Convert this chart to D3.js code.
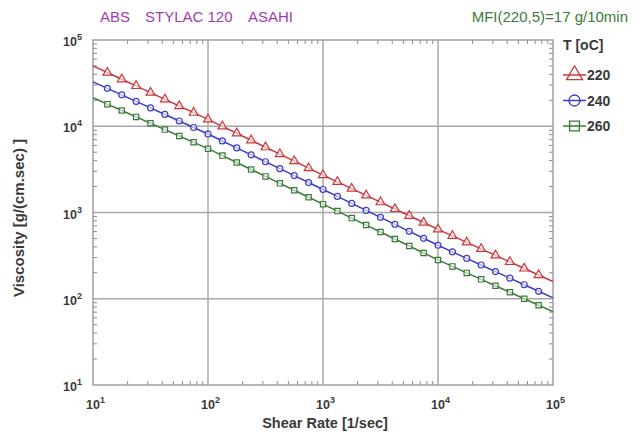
<!DOCTYPE html>
<meta charset="utf-8">
<script src="https://d3js.org/d3.v7.min.js"></script>
<style>
body { margin: 0; background: #fff; }
svg { font-family: "Liberation Sans", Arial, sans-serif; }
</style>
<div id="chart"></div>
<script>

// shear rate [1/sec]
var shearRate = [10, 13.34, 17.78, 23.71, 31.62, 42.17, 56.23, 74.99,
  100, 133.4, 177.8, 237.1, 316.2, 421.7, 562.3, 749.9,
  1000, 1334, 1778, 2371, 3162, 4217, 5623, 7499,
  10000, 13340, 17780, 23710, 31620, 42170, 56230, 74990, 100000];

// viscosity [g/(cm.sec)] per melt temperature
var visc220 = [50119, 41940, 35080, 29340, 24550, 20530, 17180, 14370,
  12020, 9983, 8288, 6882, 5715, 4746, 3940, 3272,
  2716, 2267, 1891, 1578, 1317, 1099, 916.8, 764.9,
  638.3, 536.2, 450.6, 378.5, 318.1, 267.2, 224.5, 188.6, 158.5];
var visc240 = [32730, 27500, 23110, 19410, 16310, 13700, 11515, 9674,
  8128, 6753, 5614, 4666, 3878, 3223, 2678, 2226,
  1849, 1535, 1274, 1058, 878.3, 728.9, 605.0, 502.2,
  416.9, 349.9, 293.4, 246.2, 206.5, 173.3, 145.4, 122.0, 102.3];
var visc260 = [21380, 18040, 15220, 12840, 10840, 9147, 7718, 6512,
  5495, 4568, 3796, 3154, 2621, 2178, 1810, 1504,
  1250, 1038, 861.5, 715.2, 593.7, 492.8, 409.0, 339.6,
  281.8, 237.1, 199.5, 167.9, 141.3, 118.9, 100, 84.14, 70.79];

var temps = ["220", "240", "260"];
var colors = ["#c8383c", "#3c3cc8", "#3a7a3a"];
var symbols = [d3.symbolTriangle, d3.symbolCircle, d3.symbolSquare];
var decades = [1, 2, 3, 4, 5];

var series = [visc220, visc240, visc260].map(function(v, i) {
  return { name: temps[i], color: colors[i], symbol: symbols[i],
    values: v.map(function(d, j) { return { x: shearRate[j], y: d }; }) };
});

var W = 641, H = 446;
var margin = {top: 40, right: 88, bottom: 61, left: 93};
var width = W - margin.left - margin.right,
    height = H - margin.top - margin.bottom;

var svg = d3.select("#chart").append("svg")
  .attr("width", W).attr("height", H);

var x = d3.scaleLog().domain([10, 1e5]).range([margin.left, margin.left + width]);
var y = d3.scaleLog().domain([10, 1e5]).range([margin.top + height, margin.top]);

// grid at decades
var g = svg.append("g");
g.selectAll(".gx").data(decades.slice(1, -1)).enter().append("line")
  .attr("x1", function(d) { return x(Math.pow(10, d)); })
  .attr("x2", function(d) { return x(Math.pow(10, d)); })
  .attr("y1", y(10)).attr("y2", y(1e5))
  .attr("stroke", "#a8a8a8").attr("stroke-width", 1.5);
g.selectAll(".gy").data(decades.slice(1, -1)).enter().append("line")
  .attr("y1", function(d) { return y(Math.pow(10, d)); })
  .attr("y2", function(d) { return y(Math.pow(10, d)); })
  .attr("x1", x(10)).attr("x2", x(1e5))
  .attr("stroke", "#a8a8a8").attr("stroke-width", 1.5);

// minor ticks, inside the frame
var minors = [];
decades.slice(0, -1).forEach(function(d) {
  for (var m = 2; m <= 9; m++) minors.push(m * Math.pow(10, d));
});
var tk = 4;
g.selectAll(".mb").data(minors).enter().append("line")
  .attr("x1", function(d) { return x(d); }).attr("x2", function(d) { return x(d); })
  .attr("y1", y(10)).attr("y2", y(10) - tk).attr("stroke", "#8a8a8a");
g.selectAll(".mt").data(minors).enter().append("line")
  .attr("x1", function(d) { return x(d); }).attr("x2", function(d) { return x(d); })
  .attr("y1", y(1e5)).attr("y2", y(1e5) + tk).attr("stroke", "#8a8a8a");
g.selectAll(".ml").data(minors).enter().append("line")
  .attr("y1", function(d) { return y(d); }).attr("y2", function(d) { return y(d); })
  .attr("x1", x(10)).attr("x2", x(10) + tk).attr("stroke", "#8a8a8a");
g.selectAll(".mr").data(minors).enter().append("line")
  .attr("y1", function(d) { return y(d); }).attr("y2", function(d) { return y(d); })
  .attr("x1", x(1e5)).attr("x2", x(1e5) - tk).attr("stroke", "#8a8a8a");

// frame
svg.append("rect")
  .attr("x", x(10)).attr("y", y(1e5))
  .attr("width", width).attr("height", height)
  .attr("fill", "none").attr("stroke", "#a0a0a0").attr("stroke-width", 1.5);

// tick labels 10^n
function powLabel(sel) {
  sel.text("10").append("tspan")
    .attr("dy", -6).attr("font-size", 9)
    .text(function(d) { return d; });
}
svg.selectAll(".xl").data(decades).enter().append("text")
  .attr("x", function(d) { return x(Math.pow(10, d)) - 7; })
  .attr("y", y(10) + 24)
  .attr("font-size", 12.5).attr("font-weight", "bold").attr("fill", "#3a3a3a")
  .call(powLabel);
svg.selectAll(".yl").data(decades).enter().append("text")
  .attr("x", x(10) - 30)
  .attr("y", function(d) { return y(Math.pow(10, d)) + 6; })
  .attr("font-size", 12.5).attr("font-weight", "bold").attr("fill", "#3a3a3a")
  .call(powLabel);

// curves
var line = d3.line()
  .x(function(d) { return x(d.x); })
  .y(function(d) { return y(d.y); });

var sg = svg.selectAll(".series").data(series).enter().append("g");
sg.append("path")
  .attr("d", function(d) { return line(d.values); })
  .attr("fill", "none")
  .attr("stroke", function(d) { return d.color; })
  .attr("stroke-width", 1.5);
sg.each(function(s) {
  d3.select(this).selectAll("path.mk")
    .data(s.values.slice(1, -1)).enter().append("path")
    .attr("class", "mk")
    .attr("transform", function(d) { return "translate(" + x(d.x) + "," + y(d.y) + ")"; })
    .attr("d", d3.symbol().type(s.symbol).size(s.symbol === d3.symbolTriangle ? 34 : 28))
    .attr("fill", "#fff").attr("fill-opacity", 0.6)
    .attr("stroke", s.color).attr("stroke-width", 1.2);
});

// axis titles
svg.append("text")
  .attr("x", 325).attr("y", 428)
  .attr("text-anchor", "middle")
  .attr("font-size", 14.5).attr("font-weight", "bold").attr("fill", "#3a3a3a")
  .text("Shear Rate [1/sec]");
svg.append("text")
  .attr("transform", "translate(24," + 218 + ") rotate(-90)")
  .attr("text-anchor", "middle")
  .attr("font-size", 15).attr("font-weight", "bold").attr("fill", "#3a3a3a")
  .text("Viscosity [g/(cm.sec) ]");

// header texts
svg.append("text")
  .attr("x", 100).attr("y", 22)
  .attr("font-size", 15).attr("fill", "#a03cb0")
  .text("ABS");
svg.append("text")
  .attr("x", 145).attr("y", 22)
  .attr("font-size", 15).attr("fill", "#a03cb0")
  .text("STYLAC 120");
svg.append("text")
  .attr("x", 248).attr("y", 22)
  .attr("font-size", 15).attr("fill", "#a03cb0")
  .text("ASAHI");
svg.append("text")
  .attr("x", 628).attr("y", 22)
  .attr("text-anchor", "end")
  .attr("font-size", 15).attr("fill", "#3a7a3a")
  .text("MFI(220,5)=17 g/10min");

// legend
var lg = svg.append("g").attr("transform", "translate(563,0)");
lg.append("text")
  .attr("x", 0).attr("y", 50)
  .attr("font-size", 14).attr("font-weight", "bold").attr("fill", "#3a3a3a")
  .text("T [oC]");
var item = lg.selectAll(".li").data(series).enter().append("g")
  .attr("transform", function(d, i) { return "translate(0," + (75 + i * 25.5) + ")"; });
item.append("line")
  .attr("x1", 0).attr("x2", 23)
  .attr("stroke", function(d) { return d.color; }).attr("stroke-width", 1.5);
item.append("path")
  .attr("transform", "translate(11.5,0)")
  .attr("d", function(d) { return d3.symbol().type(d.symbol).size(d.symbol === d3.symbolTriangle ? 110 : 95)(); })
  .attr("fill", "none")
  .attr("stroke", function(d) { return d.color; }).attr("stroke-width", 1.3);
item.append("text")
  .attr("x", 24).attr("y", 5)
  .attr("font-size", 14).attr("font-weight", "bold").attr("fill", "#3a3a3a")
  .text(function(d) { return d.name; });

</script>
